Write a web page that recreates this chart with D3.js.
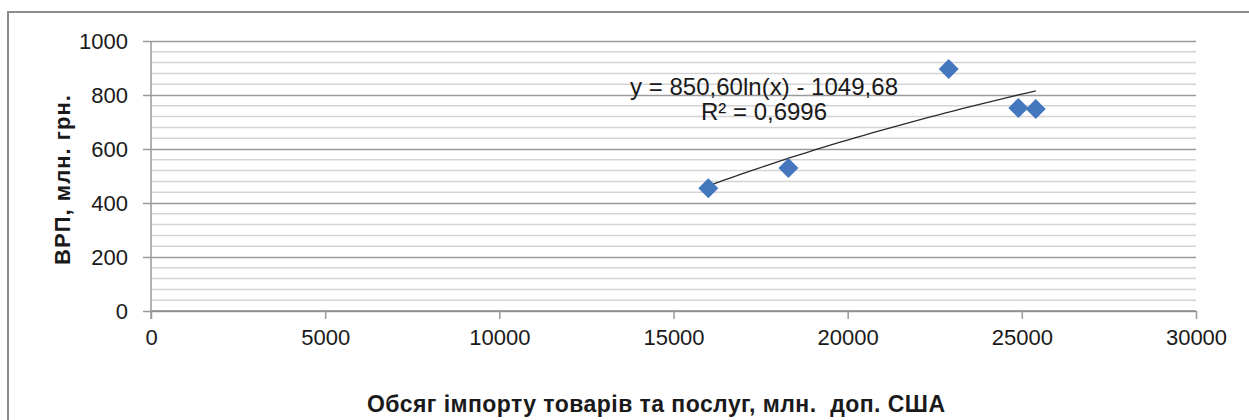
<!DOCTYPE html>
<html>
<head>
<meta charset="utf-8">
<script src="https://cdn.jsdelivr.net/npm/d3@7"></script>
<style>
  body { margin: 0; background: #fff; }
  text { font-family: "Liberation Sans", Arial, sans-serif; fill: #1a1a1a; }
</style>
</head>
<body>
<div id="chart"></div>
<script>
// Data
var importVals = [16000, 18300, 22900, 24900, 25400];
var grpVals = [455, 530, 896, 752, 748];
var xTicks = [0, 5000, 10000, 15000, 20000, 25000, 30000];
var yTicks = [0, 200, 400, 600, 800, 1000];
var eqLabel = "y = 850,60ln(x) - 1049,68";
var r2Label = "R² = 0,6996";

var margin = {top: 41, right: 53, bottom: 109, left: 151},
    width = 1249 - margin.left - margin.right,
    height = 420 - margin.top - margin.bottom;

var x = d3.scaleLinear().domain([0, 30000]).range([0, width]);
var y = d3.scaleLinear().domain([0, 1000]).range([height, 0]);

var root = d3.select("#chart").append("svg")
    .attr("width", 1249)
    .attr("height", 420);

// outer chart frame
root.append("path")
    .attr("d", "M8,420 L8,12 L1249,12")
    .attr("fill", "none")
    .attr("stroke", "#8c8c8c")
    .attr("stroke-width", 2);

var svg = root.append("g")
    .attr("transform", "translate(" + margin.left + "," + margin.top + ")");

// minor gridlines every 40
svg.append("g")
  .selectAll("line")
  .data(d3.range(40, 1000, 40).filter(function(v) { return v % 200 != 0; }))
  .enter().append("line")
    .attr("x1", 0).attr("x2", width)
    .attr("y1", function(d) { return y(d); })
    .attr("y2", function(d) { return y(d); })
    .attr("stroke", "#d4d4d4")
    .attr("stroke-width", 1.5);

// major gridlines + y axis
var yAxis = svg.append("g")
    .call(d3.axisLeft(y).tickValues(yTicks).tickSize(-width).tickFormat(d3.format("d")));
yAxis.select(".domain").remove();
yAxis.selectAll(".tick line")
    .attr("x1", -8)
    .attr("stroke", "#9a9a9a")
    .attr("stroke-width", 1.5);
yAxis.selectAll(".tick text")
    .style("font-size", "22px")
    .attr("x", -23);

// vertical axis line
svg.append("line")
    .attr("x1", 0).attr("x2", 0)
    .attr("y1", 0).attr("y2", height + 8)
    .attr("stroke", "#9a9a9a")
    .attr("stroke-width", 1.5);

// x axis
var xAxis = svg.append("g")
    .attr("transform", "translate(0," + height + ")")
    .call(d3.axisBottom(x).tickValues(xTicks).tickSize(8).tickPadding(10).tickFormat(d3.format("d")));
xAxis.select(".domain")
    .attr("d", "M0,0H" + width)
    .attr("stroke", "#8a8a8a")
    .attr("stroke-width", 1.5);
xAxis.selectAll(".tick line").attr("stroke", "#9a9a9a").attr("stroke-width", 1.5);
xAxis.selectAll(".tick text").style("font-size", "22px");

// logarithmic trendline fitted on the points
var lx = importVals.map(Math.log);
var mx = d3.mean(lx), my = d3.mean(grpVals);
var sxy = d3.sum(lx, function(v, i) { return (v - mx) * (grpVals[i] - my); });
var sxx = d3.sum(lx, function(v) { return (v - mx) * (v - mx); });
var slope = sxy / sxx, intercept = my - slope * mx;
var xmin = d3.min(importVals), xmax = d3.max(importVals);
var trend = d3.range(0, 41).map(function(i) {
  var xv = xmin + (xmax - xmin) * i / 40;
  return [xv, intercept + slope * Math.log(xv)];
});
svg.append("path")
    .datum(trend)
    .attr("fill", "none")
    .attr("stroke", "#2b2b2b")
    .attr("stroke-width", 1.3)
    .attr("d", d3.line()
      .x(function(d) { return x(d[0]); })
      .y(function(d) { return y(d[1]); }));

// diamond markers
svg.selectAll(".pt")
    .data(importVals)
  .enter().append("path")
    .attr("class", "pt")
    .attr("transform", function(d, i) { return "translate(" + x(d) + "," + y(grpVals[i]) + ")"; })
    .attr("d", "M0,-10 L10,0 L0,10 L-10,0 Z")
    .attr("fill", "#4577be");

// trendline label
svg.append("text")
    .attr("x", 764 - margin.left).attr("y", 95 - margin.top)
    .attr("text-anchor", "middle")
    .style("font-size", "24px")
    .attr("textLength", 268)
    .text(eqLabel);
svg.append("text")
    .attr("x", 764 - margin.left).attr("y", 120 - margin.top)
    .attr("text-anchor", "middle")
    .style("font-size", "24px")
    .text(r2Label);

// axis titles
root.append("text")
    .attr("transform", "translate(70,180) rotate(-90)")
    .attr("text-anchor", "middle")
    .style("font-size", "22px")
    .style("font-weight", "bold")
    .attr("textLength", 170)
    .text("ВРП, млн. грн.");

root.append("text")
    .attr("x", 656).attr("y", 412)
    .attr("text-anchor", "middle")
    .style("font-size", "23px")
    .style("font-weight", "bold")
    .attr("textLength", 578)
    .style("white-space", "pre")
    .text("Обсяг імпорту товарів та послуг, млн.  доп. США");
</script>
</body>
</html>
